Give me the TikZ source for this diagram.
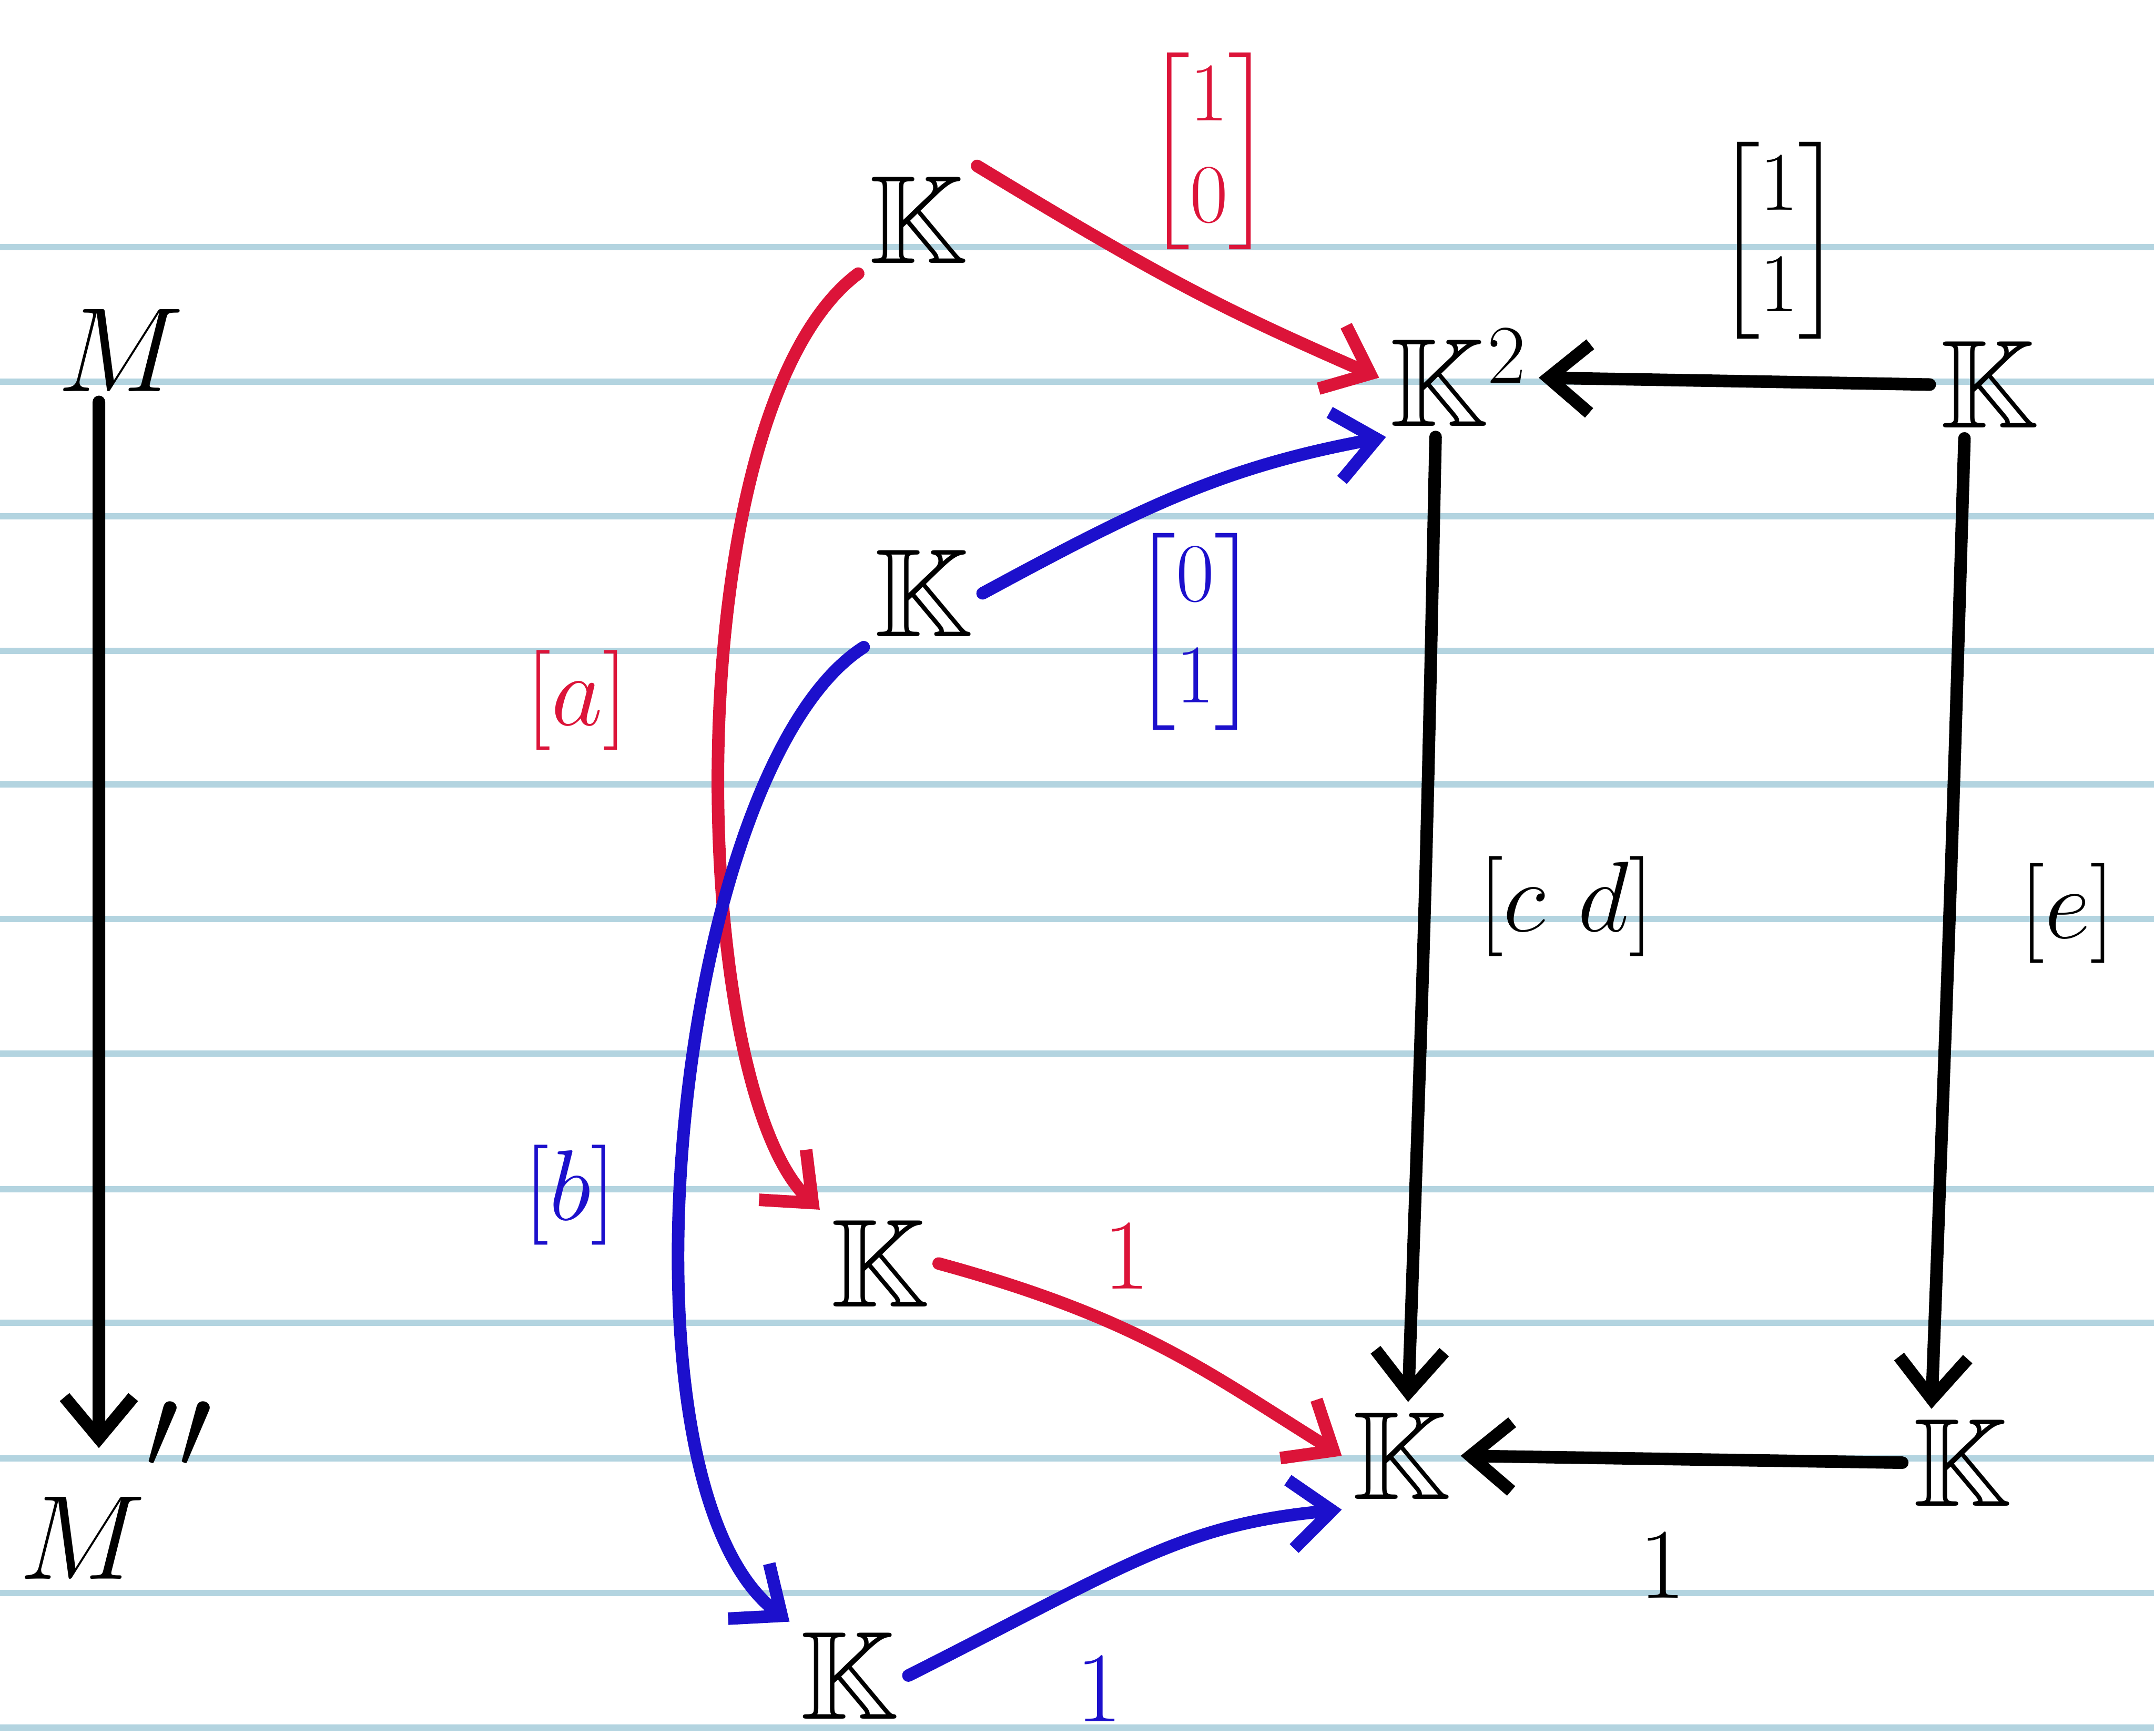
\documentclass[tikz,border=0pt]{standalone}
\usepackage{amsmath,amssymb}
\usetikzlibrary{arrows.meta}
\definecolor{hred}{HTML}{DC1439}
\definecolor{hblue}{HTML}{1C10CC}
\definecolor{rule}{HTML}{B3D4E0}
\begin{document}
\begin{tikzpicture}[
  obj/.style={inner sep=2pt, font=\fontsize{26}{30}\selectfont},
  lbl/.style={inner sep=1pt, font=\fontsize{22}{26}\selectfont},
  mat/.style={inner sep=1pt, font=\fontsize{17}{21}\selectfont},
  arr/.style={line width=2.6pt, line cap=round, -{Straight Barb[length=0.3cm,width=0.5cm,line width=2.6pt]}},
]
\useasboundingbox (0,0) rectangle (15.68,-12.64);
\fill[white] (0,0) rectangle (15.68,-12.64);
\foreach \y in {1.80,2.78,3.76,4.74,5.71,6.69,7.67,8.66,9.63,10.62,11.60,12.58}
  \draw[rule, line width=1.3pt] (0,-\y) -- (15.68,-\y);

% objects
\node[obj] (m) at (0.88,-2.55) {$M$};
\node[obj] (mpp) at (0.60,-11.20) {$M$};
\node[obj] (mppmark) at (1.30,-10.45) {$\prime\prime$};
\node[obj] (ktop) at (6.68,-1.60) {$\mathbb{K}$};
\node[obj] (k2) at (10.62,-2.75) {$\mathbb{K}^2$};
\node[obj] (kr) at (14.48,-2.80) {$\mathbb{K}$};
\node[obj] (kmid) at (6.72,-4.32) {$\mathbb{K}$};
\node[obj] (kl) at (6.40,-9.20) {$\mathbb{K}$};
\node[obj] (kb) at (10.20,-10.60) {$\mathbb{K}$};
\node[obj] (kbr) at (14.28,-10.65) {$\mathbb{K}$};
\node[obj] (kbot) at (6.18,-12.20) {$\mathbb{K}$};

% labels
\node[mat, text=hred] (l10) at (8.80,-1.10) {$\begin{bmatrix}1\\0\end{bmatrix}$};
\node[mat] (l11) at (12.95,-1.75) {$\begin{bmatrix}1\\1\end{bmatrix}$};
\node[mat, text=hblue] (l01) at (8.70,-4.60) {$\begin{bmatrix}0\\1\end{bmatrix}$};
\node[lbl, text=hred] (la) at (4.20,-5.10) {$[a]$};
\node[lbl, text=hblue] (lb) at (4.15,-8.70) {$[b]$};
\node[lbl] (lcd) at (11.40,-6.60) {$[c\ d]$};
\node[lbl] (le) at (15.05,-6.65) {$[e]$};
\node[lbl, text=hred] (l1r) at (8.20,-9.15) {$1$};
\node[lbl, text=hblue] (l1b) at (8.00,-12.30) {$1$};
\node[lbl] (l1k) at (12.10,-11.40) {$1$};

% connectors
\draw[arr] ([xshift=-0.16cm]m.south) -- ([xshift=0.12cm,yshift=0.28cm]mpp.north);
\draw[arr, hred] (ktop.north east) .. controls (8.5,-2.05) and (8.9,-2.25) .. (k2.west);
\draw[arr, hred] (ktop.south west) .. controls (4.9,-3.0) and (5.0,-7.9) .. (kl.north west);
\draw[arr, hblue] (kmid.east) .. controls (8.3,-3.7) and (8.9,-3.4) .. ([xshift=0.05cm]k2.south west);
\draw[arr, hblue] (kmid.south west) .. controls (4.9,-5.6) and (4.4,-10.8) .. (kbot.north west);
\draw[arr] (kr.west) -- (k2.east);
\draw[arr] ([xshift=-0.17cm]k2.south) .. controls (10.38,-6.5) .. ([xshift=0.05cm]kb.north);
\draw[arr] ([xshift=-0.18cm]kr.south) .. controls (14.2,-6.5) .. ([xshift=-0.22cm]kbr.north);
\draw[arr, hred] (kl.east) .. controls (8.3,-9.6) and (8.8,-10.0) .. (kb.west);
\draw[arr, hblue] (kbot.east) .. controls (8.2,-11.4) and (8.6,-11.1) .. (kb.south west);
\draw[arr] (kbr.west) -- (kb.east);
\end{tikzpicture}
\end{document}
